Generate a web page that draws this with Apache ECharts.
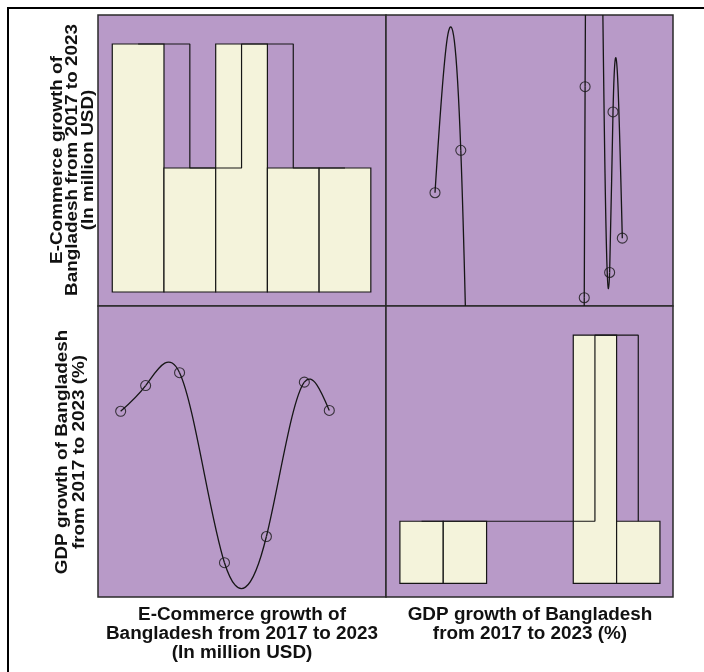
<!DOCTYPE html>
<html><head><meta charset="utf-8">
<script src="https://cdn.jsdelivr.net/npm/echarts@6/dist/echarts.min.js"></script>
<style>html,body{margin:0;padding:0;background:#fff}#chart{width:704px;height:672px}</style>
</head><body><div id="chart"></div>
<script>
// Yearly observations, 2017-2023
const years = [2017, 2018, 2019, 2020, 2021, 2022, 2023];
const ecommerce = [1500, 1750, 2090, 2540, 2960, 3340, 3590]; // million USD
const gdpGrowth = [6.98, 7.58, 7.88, 3.45, 4.06, 7.66, 7.00]; // %

// Histogram bins (diagonal cells)
const ecomBinStart = 1416, ecomBinWidth = 518;
const ecomCounts = [2, 1, 2, 1, 1];
const gdpBinStart = 2.62, gdpBinWidth = 1.025;
const gdpCounts = [1, 1, 0, 0, 4, 1];

const ecomTitle = 'E-Commerce growth of\nBangladesh from 2017 to 2023\n(In million USD)';
const gdpTitle = 'GDP growth of Bangladesh\nfrom 2017 to 2023 (%)';

const PURPLE = '#b89ac8', CREAM = '#f4f3db', INK = '#161616';

// Natural cubic spline through (xs, ys), returned as cubic Bezier segments in data space
function splineSegments(xs, ys) {
  const n = xs.length, h = [], M = new Array(n).fill(0);
  for (let i = 0; i < n - 1; i++) h.push(xs[i + 1] - xs[i]);
  const a = [], b = [], c = [], d = [];
  for (let i = 1; i < n - 1; i++) {
    a.push(h[i - 1]); b.push(2 * (h[i - 1] + h[i])); c.push(h[i]);
    d.push(6 * ((ys[i + 1] - ys[i]) / h[i] - (ys[i] - ys[i - 1]) / h[i - 1]));
  }
  const m = b.length;
  for (let i = 1; i < m; i++) { const w = a[i] / b[i - 1]; b[i] -= w * c[i - 1]; d[i] -= w * d[i - 1]; }
  const sol = new Array(m);
  sol[m - 1] = d[m - 1] / b[m - 1];
  for (let i = m - 2; i >= 0; i--) sol[i] = (d[i] - c[i] * sol[i + 1]) / b[i];
  for (let i = 1; i < n - 1; i++) M[i] = sol[i - 1];
  const segs = [];
  for (let i = 0; i < n - 1; i++) {
    const hi = h[i], s = (ys[i + 1] - ys[i]) / hi;
    const m0 = s - hi * (2 * M[i] + M[i + 1]) / 6;
    const m1 = s + hi * (M[i] + 2 * M[i + 1]) / 6;
    segs.push([[xs[i], ys[i]], [xs[i] + hi / 3, ys[i] + m0 * hi / 3],
               [xs[i + 1] - hi / 3, ys[i + 1] - m1 * hi / 3], [xs[i + 1], ys[i + 1]]]);
  }
  return segs;
}

function sortedPairs(xs, ys) {
  return xs.map((x, i) => [x, ys[i]]).sort((p, q) => p[0] - q[0]);
}

function splineSeries(xs, ys, gi) {
  const pts = sortedPairs(xs, ys);
  const segs = splineSegments(pts.map(p => p[0]), pts.map(p => p[1]));
  return {
    type: 'custom', xAxisIndex: gi, yAxisIndex: gi, clip: true, silent: true,
    data: pts,
    renderItem(params, api) {
      const seg = segs[params.dataIndex];
      if (!seg) return null;
      const p = seg.map(q => api.coord(q));
      return {
        type: 'bezierCurve',
        shape: { x1: p[0][0], y1: p[0][1], cpx1: p[1][0], cpy1: p[1][1],
                 cpx2: p[2][0], cpy2: p[2][1], x2: p[3][0], y2: p[3][1] },
        style: { stroke: INK, lineWidth: 1.3, fill: null }
      };
    }
  };
}

function histogramSeries(start, width, counts, gi) {
  const bins = counts.map((n, i) => [start + i * width, start + (i + 1) * width, n]);
  return {
    type: 'custom', xAxisIndex: gi, yAxisIndex: gi, silent: true,
    encode: { x: [0, 1], y: 2 },
    data: bins,
    renderItem(params, api) {
      if (!api.value(2)) return null;
      const p0 = api.coord([api.value(0), 0]);
      const p1 = api.coord([api.value(1), api.value(2)]);
      return {
        type: 'rect',
        shape: { x: p0[0], y: p1[1], width: p1[0] - p0[0], height: p0[1] - p1[1] },
        style: { fill: CREAM, stroke: INK, lineWidth: 1.2 }
      };
    }
  };
}

// Step outline through the centres of the occupied bins
function stepOutline(start, width, counts, gi) {
  const pts = [];
  counts.forEach((n, i) => { if (n) pts.push([start + (i + 0.5) * width, n]); });
  return {
    type: 'line', xAxisIndex: gi, yAxisIndex: gi, step: 'end', silent: true,
    symbol: 'none', data: pts, z: 3,
    lineStyle: { color: INK, width: 1.2 }
  };
}

function scatterSeries(xs, ys, gi) {
  return {
    type: 'scatter', xAxisIndex: gi, yAxisIndex: gi, silent: true, z: 4,
    symbol: 'circle', symbolSize: 10,
    data: xs.map((x, i) => [x, ys[i]]),
    itemStyle: { color: 'rgba(0,0,0,0)', borderColor: INK, borderWidth: 1.1 }
  };
}

const cells = [
  { left: 98, top: 15, width: 288, height: 291 },
  { left: 386, top: 15, width: 287, height: 291 },
  { left: 98, top: 306, width: 288, height: 291 },
  { left: 386, top: 306, width: 287, height: 291 }
];
const ecomRange = { x: [1273, 4158], y: [1418, 4300] };
const gdpRange = { x: [2.291, 9.079], y: [2.65, 9.435] };
const xRanges = [ecomRange.x, gdpRange.x, ecomRange.x, gdpRange.x];
const yRanges = [[-0.113, 2.234], ecomRange.y, gdpRange.y, [-0.221, 4.47]];

const hidden = { show: false };
const fontStack = '"Liberation Sans", Arial, sans-serif';
const labelStyle = (text, size, lh) => ({
  text, font: 'bold ' + size + 'px ' + fontStack, lineHeight: lh,
  align: 'center', verticalAlign: 'middle', fill: '#111'
});

const option = {
  backgroundColor: '#ffffff',
  animation: false,
  grid: cells.map(c => Object.assign({ show: true, backgroundColor: PURPLE, borderColor: '#2a2a2a', borderWidth: 1.5 }, c)),
  xAxis: xRanges.map((r, i) => ({ type: 'value', gridIndex: i, min: r[0], max: r[1], show: false, splitLine: hidden })),
  yAxis: yRanges.map((r, i) => ({ type: 'value', gridIndex: i, min: r[0], max: r[1], show: false, splitLine: hidden })),
  series: [
    histogramSeries(ecomBinStart, ecomBinWidth, ecomCounts, 0),
    stepOutline(ecomBinStart, ecomBinWidth, ecomCounts, 0),
    splineSeries(gdpGrowth, ecommerce, 1),
    scatterSeries(gdpGrowth, ecommerce, 1),
    splineSeries(ecommerce, gdpGrowth, 2),
    scatterSeries(ecommerce, gdpGrowth, 2),
    histogramSeries(gdpBinStart, gdpBinWidth, gdpCounts, 3),
    stepOutline(gdpBinStart, gdpBinWidth, gdpCounts, 3)
  ],
  graphic: [
    { type: 'polyline', silent: true, shape: { points: [[8, 672], [8, 8], [704, 8]] },
      style: { stroke: '#000', lineWidth: 2, fill: null } },
    { type: 'text', x: 72.5, y: 160, rotation: Math.PI / 2, scaleX: 1.145,
      style: labelStyle(ecomTitle, 16.5, 15.5) },
    { type: 'text', x: 71, y: 452, rotation: Math.PI / 2, scaleX: 1.145,
      style: labelStyle(gdpTitle, 16.5, 16.5) },
    { type: 'text', x: 242, y: 634, scaleX: 1.08,
      style: labelStyle(ecomTitle, 17.5, 19) },
    { type: 'text', x: 530, y: 624.5, scaleX: 1.08,
      style: labelStyle(gdpTitle, 17.5, 19) }
  ]
};

echarts.init(document.getElementById('chart')).setOption(option);
</script>
</body></html>
